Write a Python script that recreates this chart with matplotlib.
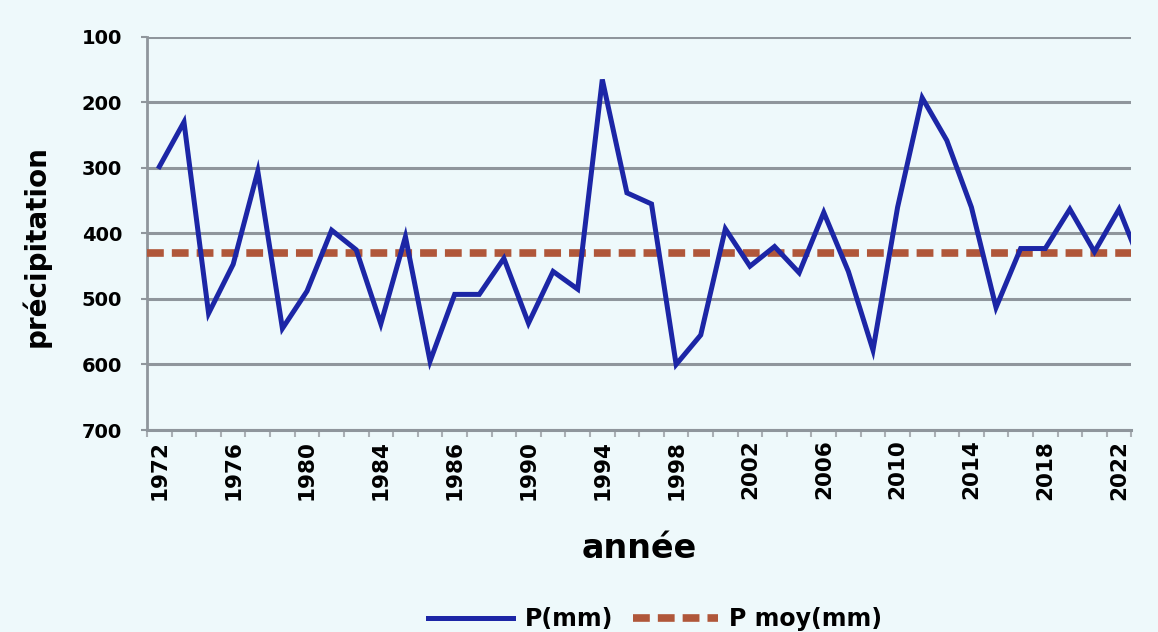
import matplotlib
matplotlib.use('Agg')
import matplotlib.pyplot as plt
from matplotlib.lines import Line2D
import numpy as np

# precipitations annuelles (mm), une valeur par categorie de l'axe
precip = [298, 230, 522, 447, 305, 545, 488, 395, 425, 538,
          405, 595, 493, 493, 438, 537, 458, 485, 165, 338,
          355, 600, 555, 393, 450, 420, 460, 368, 458, 578,
          360, 193, 258, 360, 513, 423, 423, 363, 428, 363,
          457]
p_moy = 430
# etiquettes de l'axe x (une toutes les 3 categories, comme sur l'original)
annees = ['1972', '1976', '1980', '1984', '1986', '1990', '1994',
          '1998', '2002', '2006', '2010', '2014', '2018', '2022']
y_ticks = [100, 200, 300, 400, 500, 600, 700]

bg = '#eef9fb'
gris = '#8f969c'
bleu = '#1c26a6'
brun = '#b0573a'

plt.rcParams['font.family'] = ['DejaVu Sans']

fig = plt.figure(figsize=(11.58, 6.32), dpi=100, facecolor=bg)
ax = fig.add_axes([0.127, 0.3196, 0.85, 0.622])
ax.set_facecolor(bg)

x = np.arange(len(precip))
ax.plot(x, precip, color=bleu, lw=3.6, solid_joinstyle='miter', zorder=4)
ax.axhline(p_moy, color=brun, lw=5.5, dashes=(2.2, 1.05), dash_capstyle='butt', zorder=3)

ax.set_xlim(-0.5, 39.5)
ax.set_ylim(700, 100)
ax.set_yticks(y_ticks)
ax.set_yticklabels([str(v) for v in y_ticks], fontsize=14, fontweight='bold')
ax.yaxis.grid(True, color=gris, lw=2.2, zorder=1)
ax.set_axisbelow(True)

pos = np.arange(0, 3 * len(annees), 3)
ax.set_xticks(pos)
ax.set_xticklabels(annees, rotation=90, fontsize=15.5, fontweight='bold')
ax.set_xticks(np.arange(-0.5, 40, 1), minor=True)
ax.tick_params(axis='x', which='major', length=0, pad=7)
ax.tick_params(axis='x', which='minor', length=5, width=1.5, color='#a9afb4')
ax.tick_params(axis='y', length=4, width=1.5, color=gris, pad=14)

for s in ['top', 'right']:
    ax.spines[s].set_visible(False)
ax.spines['left'].set_color(gris)
ax.spines['left'].set_linewidth(2)
ax.spines['bottom'].set_color(gris)
ax.spines['bottom'].set_linewidth(2.2)

ax.set_xlabel('année', fontsize=24, fontweight='bold', labelpad=23)
fig.text(0.031, 1 - 246 / 632, 'précipitation', rotation=90, fontsize=20,
         fontweight='bold', ha='center', va='center')

handles = [Line2D([], [], color=bleu, lw=3.6),
           Line2D([], [], color=brun, lw=5.5, dashes=(2.2, 1.05), dash_capstyle='butt')]
fig.legend(handles, ['P(mm)', 'P moy(mm)'], loc='center', bbox_to_anchor=(0.566, 0.02),
           ncol=2, frameon=False, handlelength=3.6, handletextpad=0.5, columnspacing=0.8,
           prop={'weight': 'bold', 'size': 17})

plt.savefig('out.png', dpi=100, facecolor=bg)
